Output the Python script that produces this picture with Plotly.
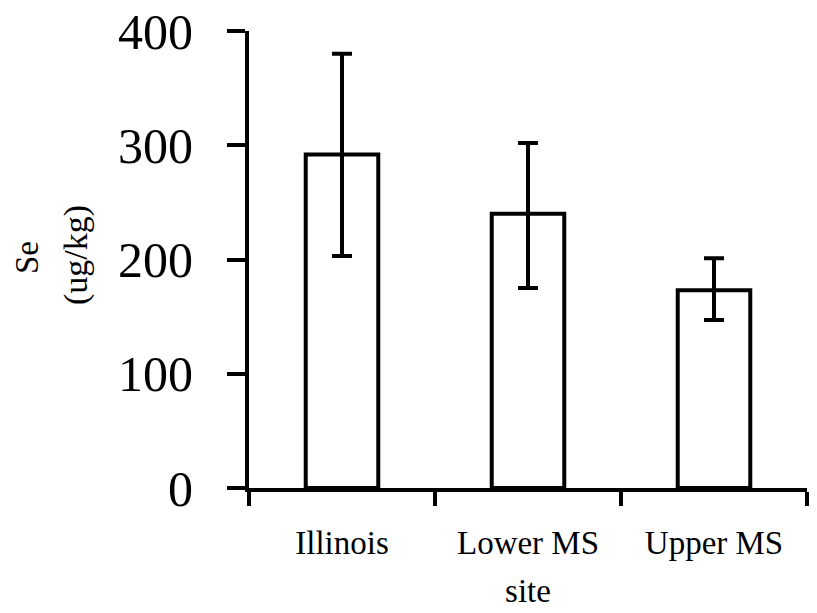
import plotly.graph_objects as go

sites = ["Illinois", "Lower MS", "Upper MS"]
se_mean = [292, 240, 173]
err_plus = [88, 62, 28]
err_minus = [89, 65, 26]
y_ticks = [0, 100, 200, 300, 400]

FONT = "Liberation Serif, Times New Roman, serif"
OFF = 8  # page body margin
W, H = 817 - OFF, 613 - OFF
L, R, T, B = 249 - OFF, 10, 31 - OFF, 125
pw = W - L - R
ph = H - T - B

fig = go.Figure()
fig.add_trace(go.Bar(
    x=sites, y=se_mean,
    marker=dict(color="white", line=dict(color="black", width=4)),
    error_y=dict(type="data", symmetric=False, array=err_plus, arrayminus=err_minus,
                 color="black", thickness=4, width=10),
))

fig.update_layout(
    width=W, height=H,
    margin=dict(l=L, r=R, t=T, b=B),
    plot_bgcolor="white", paper_bgcolor="white",
    bargap=0.61, showlegend=False,
    font=dict(family=FONT, color="black"),
)
fig.update_xaxes(
    range=[-0.5, 2.5], showline=True, linecolor="black", linewidth=4,
    ticks="outside", tickson="boundaries", ticklen=14, tickwidth=4, tickcolor="black",
    tickfont=dict(size=33, family=FONT), showgrid=False, zeroline=False,
    ticklabelstandoff=22, automargin=False, ticklabeloverflow="allow",
    title=dict(text="site", font=dict(size=33, family=FONT), standoff=20),
)
fig.update_yaxes(
    range=[0, 400], tickvals=y_ticks, showline=True, linecolor="black", linewidth=4,
    ticks="outside", ticklen=18, tickwidth=4, tickcolor="black",
    tickfont=dict(size=50, family=FONT), showgrid=False, zeroline=False,
    ticklabelstandoff=24, automargin=False, ticklabeloverflow="allow",
)

def px2x(px):
    return (px - OFF - L) / pw

def py2y(py):
    return (H - B - (py - OFF)) / ph

fig.add_annotation(text="Se", xref="paper", yref="paper", x=px2x(27), y=py2y(258),
                   textangle=-90, showarrow=False, font=dict(size=33, family=FONT),
                   xanchor="center", yanchor="middle")
fig.add_annotation(text="(ug/kg)", xref="paper", yref="paper", x=px2x(76), y=py2y(255),
                   textangle=-90, showarrow=False, font=dict(size=34, family=FONT),
                   xanchor="center", yanchor="middle")

fig.write_html("out.html")
